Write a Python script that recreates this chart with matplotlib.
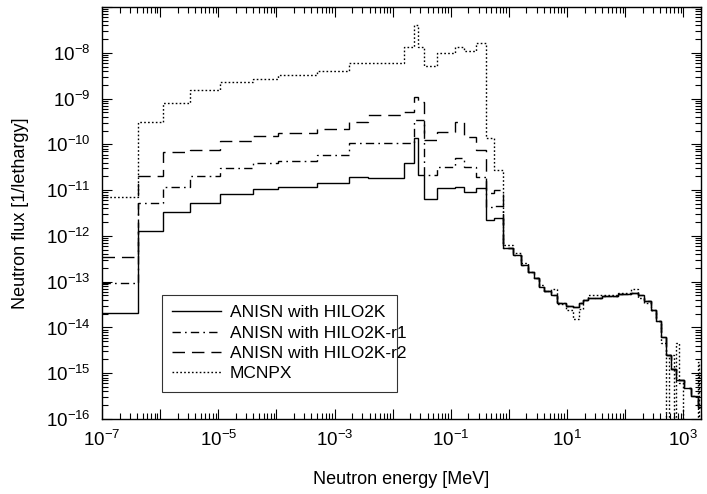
import numpy as np
import matplotlib
matplotlib.use("Agg")
import matplotlib.pyplot as plt
from matplotlib import font_manager
from matplotlib.ticker import LogLocator, FuncFormatter, NullFormatter

# pick a narrow sans if available
family = "Liberation Sans"
try:
    font_manager.findfont("Liberation Sans Narrow", fallback_to_default=False)
    family = "Liberation Sans Narrow"
except Exception:
    pass

plt.rcParams["font.family"] = [family, "DejaVu Sans"]
plt.rcParams["mathtext.fontset"] = "custom"
plt.rcParams["mathtext.rm"] = family
plt.rcParams["mathtext.it"] = family
plt.rcParams["mathtext.bf"] = family

# group edges (MeV), low energy part shared by all curves
edges_low = [1e-7, 4.14e-7, 1.1e-6, 3.2e-6, 1.07e-5, 4e-5, 1.07e-4, 4.9e-4,
             1.74e-3, 3.7e-3, 1.55e-2, 2.3e-2, 2.7e-2, 3.4e-2, 5.7e-2,
             0.12, 0.166, 0.27, 0.40, 0.55, 0.79]

hilo2k_low = [2.1e-14, 1.3e-12, 3.3e-12, 5.2e-12, 8.3e-12, 1.07e-11, 1.17e-11,
              1.45e-11, 1.95e-11, 1.86e-11, 3.9e-11, 1.38e-10, 2.1e-11, 6.5e-12,
              1.1e-11, 1.17e-11, 9.1e-12, 1.1e-11, 2.2e-12, 2.5e-12]
hilo2k_r1_low = [9.3e-14, 5.2e-12, 1.17e-11, 2.0e-11, 3.0e-11, 3.9e-11, 4.4e-11,
                 5.9e-11, 1.07e-10, 1.07e-10, 1.07e-10, 3.4e-10, 3.4e-10, 2.1e-11,
                 3.2e-11, 5.0e-11, 3.2e-11, 1.95e-11, 4.3e-12, 4.5e-12]
hilo2k_r2_low = [3.5e-13, 2.0e-11, 6.8e-11, 7.6e-11, 1.2e-10, 1.5e-10, 1.74e-10,
                 2.2e-10, 3.1e-10, 4.4e-10, 5.1e-10, 1.1e-9, 8.5e-10, 1.26e-10,
                 1.86e-10, 3.1e-10, 1.45e-10, 7.6e-11, 8.7e-12, 1.0e-11]
mcnpx_low = [7.1e-12, 3.1e-10, 7.9e-10, 1.55e-9, 2.3e-9, 2.7e-9, 3.2e-9,
             4.1e-9, 6.0e-9, 6.0e-9, 1.35e-8, 4.1e-8, 1.35e-8, 5.1e-9,
             1.0e-8, 1.35e-8, 1.1e-8, 1.66e-8, 1.35e-10, 2.75e-11]

# high energy part: the three ANISN runs coincide
edges_high = [0.79, 1.17, 1.61, 2.13, 2.7, 3.29, 4.0, 5.3, 6.7, 9.6, 12.7, 16,
              19, 23, 40, 75, 125, 165, 210, 280, 340, 420, 510, 620, 760,
              1040, 1370, 1800, 2000]
anisn_high = [5.5e-13, 3.9e-13, 2.3e-13, 1.65e-13, 1.2e-13, 7.8e-14, 6.3e-14,
              5.1e-14, 3.5e-14, 2.95e-14, 2.8e-14, 3.4e-14, 4.0e-14, 4.5e-14,
              4.9e-14, 5.4e-14, 5.7e-14, 5.2e-14, 3.8e-14, 2.4e-14, 1.4e-14,
              6.3e-15, 2.5e-15, 1.26e-15, 7e-16, 4.7e-16, 3.2e-16, 1.8e-16]

mcnpx_edges_high = [0.79, 1.17, 1.61, 2.13, 2.7, 3.29, 4.0, 5.3, 6.7, 9.6, 12.7,
                    16, 19, 23, 40, 75, 125, 165, 210, 280, 340, 420, 509, 565,
                    690, 750, 835, 995, 1800, 1880, 2000]
mcnpx_high = [6.2e-13, 4.2e-13, 2.5e-13, 1.65e-13, 1.2e-13, 8.3e-14, 6.3e-14,
              7.0e-14, 3.2e-14, 2.4e-14, 1.5e-14, 2.5e-14, 4.0e-14, 5.0e-14,
              5.2e-14, 5.6e-14, 7.0e-14, 4.5e-14, 3.5e-14, 2.4e-14, 1.4e-14,
              4.5e-15, 0, 2.5e-15, 0, 4.5e-15, 6e-16, 0, 1.8e-15, 0]

labels = ["ANISN with HILO2K", "ANISN with HILO2K-r1",
          "ANISN with HILO2K-r2", "MCNPX"]


def join(lo_e, lo_v, hi_e, hi_v):
    e = np.array(lo_e + hi_e[1:])
    v = np.array(lo_v + hi_v, dtype=float)
    v[v <= 0] = 1e-20  # empty bins drop below the axis
    return e, v


fig = plt.figure(figsize=(7.07, 4.94), dpi=100)
ax = fig.add_axes([0.1443, 0.1518, 0.847, 0.834])

series = [
    (join(edges_low, hilo2k_low, edges_high, anisn_high), "-"),
    (join(edges_low, hilo2k_r1_low, edges_high, anisn_high), (0, (6, 3, 1.2, 3))),
    (join(edges_low, hilo2k_r2_low, edges_high, anisn_high), (0, (9, 5))),
    (join(edges_low, mcnpx_low, mcnpx_edges_high, mcnpx_high), (0, (1.2, 1.6))),
]

handles = []
for ((e, v), ls), lab in zip(series[::-1], labels[::-1]):
    h = ax.stairs(v, e, baseline=None, color="black", linewidth=1.0,
                  linestyle=ls, label=lab)
    handles.append(h)

ax.set_xscale("log")
ax.set_yscale("log")
ax.set_xlim(1e-7, 2e3)
ax.set_ylim(1e-16, 1e-7)

ax.xaxis.set_major_locator(LogLocator(base=10, numticks=20))
ax.xaxis.set_minor_locator(LogLocator(base=10, subs=np.arange(2, 10), numticks=20))
ax.yaxis.set_major_locator(LogLocator(base=10, numticks=20))
ax.yaxis.set_minor_locator(LogLocator(base=10, subs=np.arange(2, 10), numticks=20))


def xfmt(val, pos):
    k = int(round(np.log10(val)))
    return r"$10^{%d}$" % k if k % 2 != 0 else ""


def yfmt(val, pos):
    k = int(round(np.log10(val)))
    return r"$10^{%d}$" % k if k <= -8 else ""


ax.xaxis.set_major_formatter(FuncFormatter(xfmt))
ax.yaxis.set_major_formatter(FuncFormatter(yfmt))
ax.xaxis.set_minor_formatter(NullFormatter())
ax.yaxis.set_minor_formatter(NullFormatter())

ax.tick_params(which="both", direction="in", top=True, right=True,
               labelsize=13.5, width=0.8)
ax.tick_params(which="major", length=7, pad=8)
ax.tick_params(which="minor", length=4)
for s in ax.spines.values():
    s.set_linewidth(1.0)

ax.set_xlabel("Neutron energy [MeV]", fontsize=13, labelpad=15)
ax.set_ylabel("Neutron flux [1/lethargy]", fontsize=13, labelpad=12)

leg = ax.legend(handles[::-1], labels, loc="lower left",
                bbox_to_anchor=(0.10, 0.066, 0.392, 0.23), mode="expand",
                fontsize=12.5, frameon=True, fancybox=False, edgecolor="black",
                handlelength=2.8, handletextpad=0.5, labelspacing=0.3,
                borderpad=0.6, borderaxespad=0)
leg.get_frame().set_linewidth(0.8)

fig.savefig("out.png", dpi=100)
